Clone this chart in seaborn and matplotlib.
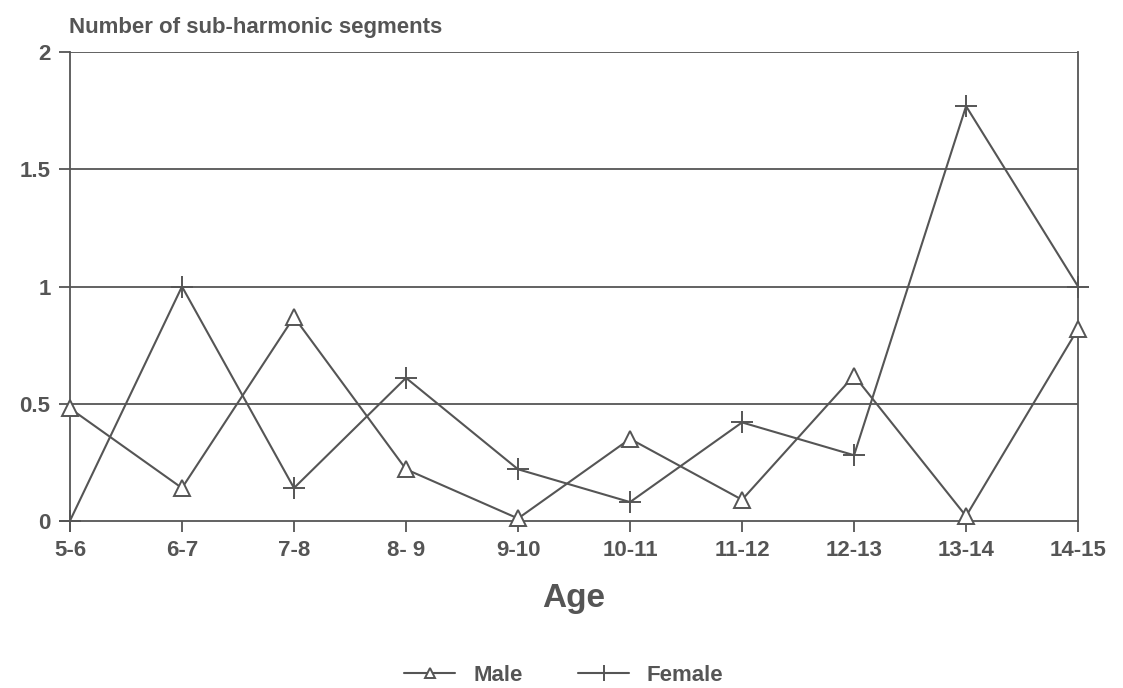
import pandas as pd
import matplotlib.pyplot as plt
import seaborn as sns

age_groups = ['5-6', '6-7', '7-8', '8- 9', '9-10', '10-11', '11-12', '12-13', '13-14', '14-15']
male = [0.48, 0.14, 0.87, 0.22, 0.01, 0.35, 0.09, 0.62, 0.02, 0.82]
female = [0.0, 1.0, 0.14, 0.61, 0.22, 0.08, 0.42, 0.28, 1.77, 1.0]
y_ticks = [0, 0.5, 1, 1.5, 2]
y_tick_labels = ['0', '0.5', '1', '1.5', '2']

sns.set_style('white')
plt.rcParams['font.family'] = ['Liberation Sans', 'DejaVu Sans']
plt.rcParams['font.weight'] = 'bold'

INK = '#555555'

df_m = pd.DataFrame({'age': age_groups, 'value': male})
df_f = pd.DataFrame({'age': age_groups, 'value': female})

fig = plt.figure(figsize=(11.23, 6.88), dpi=100)
ax = fig.add_axes([0.0623, 0.243, 0.8977, 0.681])

# two calls: seaborn won't mix filled (^) and line-art (+) markers in one style map
sns.lineplot(data=df_m, x='age', y='value', ax=ax, color=INK, label='Male',
             marker='^', markersize=11, markerfacecolor='white',
             markeredgecolor=INK, markeredgewidth=1.4, linewidth=1.5,
             sort=False, clip_on=False, zorder=3)
sns.lineplot(data=df_f, x='age', y='value', ax=ax, color=INK, label='Female',
             marker='+', markersize=16, markeredgecolor=INK,
             markeredgewidth=1.4, linewidth=1.5, sort=False, clip_on=False,
             zorder=3)

# horizontal gridlines like the old plotter output
for v in y_ticks[1:]:
    ax.axhline(v, color=INK, lw=1.3, zorder=0)

ax.set_xlim(0, len(age_groups) - 1)
ax.set_ylim(0, 2)
ax.set_xticks(range(len(age_groups)))
ax.set_xticklabels(age_groups, fontsize=16, color=INK, fontweight='bold')
ax.set_yticks(y_ticks)
ax.set_yticklabels(y_tick_labels, fontsize=16, color=INK, fontweight='bold')
ax.tick_params(axis='both', direction='out', length=8, width=1.3, color=INK,
               bottom=True, left=True, pad=6)

for side in ['top', 'right', 'left', 'bottom']:
    ax.spines[side].set_color(INK)
    ax.spines[side].set_linewidth(1.3)
ax.spines['top'].set_visible(False)

ax.set_xlabel('Age', fontsize=24, color=INK, fontweight='bold', labelpad=16)
ax.set_ylabel('')
fig.text(0.061, 0.945, 'Number of sub-harmonic segments', fontsize=16,
         color=INK, fontweight='bold', ha='left', va='bottom')

handles, labels = ax.get_legend_handles_labels()
ax.legend(handles, labels, loc='center', bbox_to_anchor=(0.49, -0.33),
          ncol=2, frameon=False, labelcolor=INK, markerscale=0.7,
          handlelength=2.3, columnspacing=2.5, prop={'weight': 'bold', 'size': 16})

fig.savefig('out.png', dpi=100)
